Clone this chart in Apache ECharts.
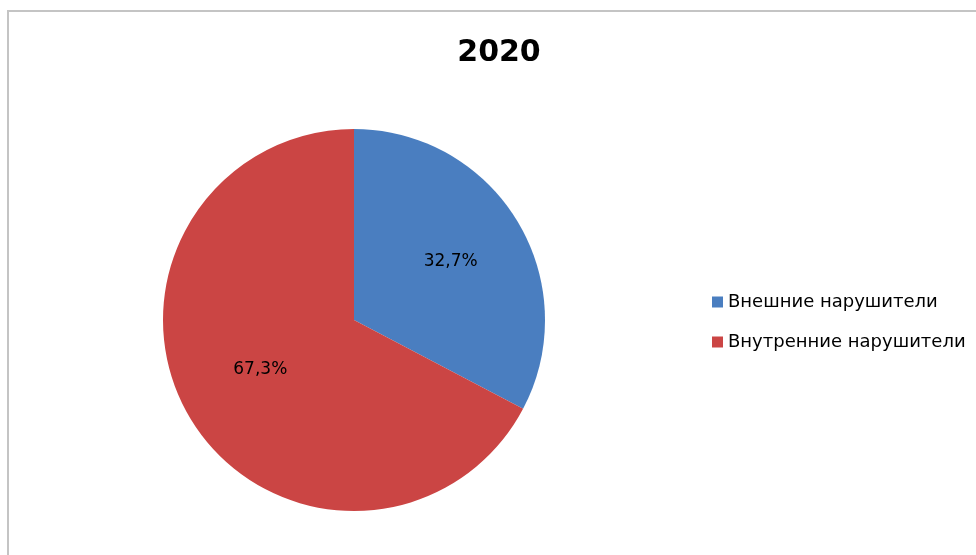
<!DOCTYPE html>
<html><head><meta charset="utf-8">
<script src="https://cdn.jsdelivr.net/npm/echarts@6/dist/echarts.min.js"></script>
<style>html,body{margin:0;padding:0;background:#fff}#c{width:976px;height:555px}</style>
</head><body><div id="c"></div>
<script>
const titleText = '2020';
const categories = ['Внешние нарушители', 'Внутренние нарушители'];
const values = [32.7, 67.3];
const colors = ['#4A7EC0', '#CB4544'];

const labelOffsets = [[0, 0], [3, -9]];
const data = categories.map((n, i) => ({ name: n, value: values[i], itemStyle: { color: colors[i] } }));
const chart = echarts.init(document.getElementById('c'));
chart.setOption({
  animation: false,
  graphic: [{ type: 'rect', shape: { x: 8, y: 11, width: 1000, height: 600 }, style: { fill: 'none', stroke: '#c4c4c4', lineWidth: 2 } }],
  title: { text: titleText, left: 494, top: 33, textAlign: 'center',
    textStyle: { fontFamily: 'DejaVu Sans', fontWeight: 'bold', fontSize: 30, color: '#000' } },
  legend: { orient: 'vertical', left: 707, top: 288, itemWidth: 11, itemHeight: 11, itemGap: 22,
    icon: 'rect', textStyle: { fontFamily: 'DejaVu Sans', fontSize: 18, color: '#000', padding: [0, 0, 0, 0] } },
  series: [
    { type: 'pie', center: [354, 320], radius: [0, 191], startAngle: 90, clockwise: true,
      data: data, label: { show: false }, labelLine: { show: false }, silent: true },
    { type: 'pie', center: [354, 320], radius: [0, 220], startAngle: 90, clockwise: true, silent: true,
      data: data.map((d, i) => ({ name: d.name, value: d.value, itemStyle: { color: 'rgba(0,0,0,0)' },
        label: { offset: labelOffsets[i] } })),
      label: { show: true, position: 'inside', fontFamily: 'DejaVu Sans', fontSize: 17, color: '#000',
        formatter: p => p.value.toFixed(1).replace('.', ',') + '%' },
      labelLine: { show: false } }
  ]
});
</script></body></html>
